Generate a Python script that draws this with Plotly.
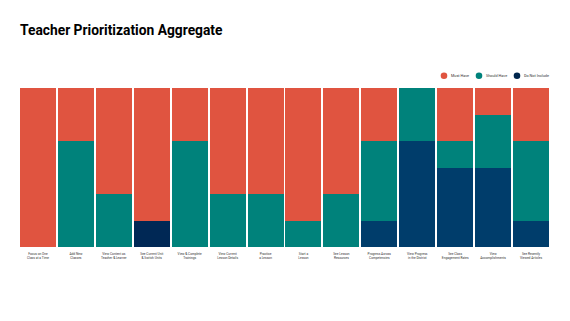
import plotly.graph_objects as go

categories = [
    "Focus on One<br>Class at a Time",
    "Add New<br>Classes",
    "View Content as<br>Teacher & Learner",
    "See Current Unit<br>& Switch Units",
    "View & Complete<br>Trainings",
    "View Current<br>Lesson Details",
    "Practice<br>a Lesson",
    "Start a<br>Lesson",
    "See Lesson<br>Resources",
    "Progress Across<br>Competencies",
    "View Progress<br>in the District",
    "See Class<br>Engagement Rates",
    "View<br>Accomplishments",
    "See Recently<br>Viewed Articles",
]
must_have = [6, 2, 4, 5, 2, 4, 4, 5, 4, 2, 0, 2, 1, 2]
should_have = [0, 4, 2, 0, 4, 2, 2, 1, 2, 3, 2, 1, 2, 3]
do_not_include = [0, 0, 0, 1, 0, 0, 0, 0, 0, 1, 4, 3, 3, 1]

series_names = ["Must Have", "Should Have", "Do Not Include"]
RED = "#e05440"
TEAL = "#00827b"
NAVY = "#003d6b"
NAVY_DARK = "#002855"

x = list(range(len(categories)))
dni_colors = [NAVY_DARK if i == 3 else NAVY for i in x]

fig = go.Figure()
fig.add_bar(x=x, y=do_not_include, name=series_names[2], marker=dict(color=dni_colors, line=dict(width=0)), showlegend=False)
fig.add_bar(x=x, y=should_have, name=series_names[1], marker=dict(color=TEAL, line=dict(width=0)), showlegend=False)
fig.add_bar(x=x, y=must_have, name=series_names[0], marker=dict(color=RED, line=dict(width=0)), showlegend=False)

W, H = 570, 321
ml, mr, mt, mb = 19, 20, 88, 74

def px_to_paper_x(px):
    return (px - ml) / (W - ml - mr)

def px_to_paper_y(py):
    return (H - mb - py) / (H - mt - mb)

legend_items = [(444, series_names[0], RED), (479, series_names[1], TEAL), (517, series_names[2], "#00264d")]
shapes = []
annotations = []
ly = 75.7
for cx, name, col in legend_items:
    shapes.append(dict(type="circle", xref="paper", yref="paper", xsizemode="pixel", ysizemode="pixel",
                       xanchor=px_to_paper_x(cx), yanchor=px_to_paper_y(ly),
                       x0=-3.3, x1=3.3, y0=-3.3, y1=3.3, fillcolor=col, line=dict(width=0)))
    annotations.append(dict(text=name, xref="paper", yref="paper", x=px_to_paper_x(cx + 5), y=px_to_paper_y(ly),
                            xanchor="left", yanchor="middle", showarrow=False,
                            font=dict(family="Roboto", size=3.8, color="#333333")))

fig.update_layout(
    width=W, height=H,
    margin=dict(l=ml, r=mr, t=mt, b=mb),
    paper_bgcolor="white", plot_bgcolor="white",
    barmode="stack", bargap=0.05,
    title=dict(text="<b>Teacher Prioritization Aggregate</b>", x=20 / W, xanchor="left",
               y=1 - 30 / H, yanchor="middle", font=dict(family="Roboto", size=13.8, color="black")),
    shapes=shapes, annotations=annotations,
    xaxis=dict(tickmode="array", tickvals=x, ticktext=categories, showgrid=False, zeroline=False,
               showline=False, ticks="", tickfont=dict(family="Roboto", size=3.2, color="#333333"),
               ticklabelstandoff=4,
               range=[-0.5, len(categories) - 0.5], fixedrange=True),
    yaxis=dict(range=[0, 6], showgrid=False, zeroline=False, showticklabels=False, ticks="", fixedrange=True),
)

fig.write_html("out.html")
